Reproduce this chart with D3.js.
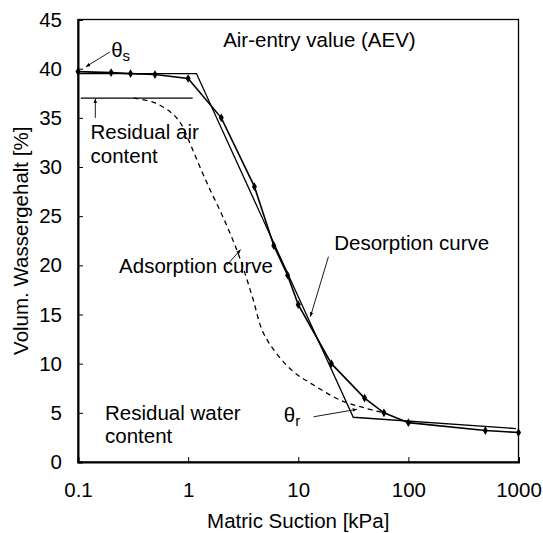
<!DOCTYPE html>
<meta charset="utf-8">
<script src="https://d3js.org/d3.v7.min.js"></script>
<style>
  body { margin: 0; background: #fff; }
  text { font-family: Arial, "Liberation Sans", sans-serif; fill: #000; }
</style>
<div id="my_dataviz"></div>
<script>

// measured desorption curve (with markers)
var desSuction = [0.1, 0.2, 0.3, 0.5, 1, 2, 4, 6, 8, 10, 20, 40, 60, 100, 500, 1000];
var desWater   = [39.7, 39.6, 39.5, 39.4, 39.0, 35, 28, 22, 19, 16, 10, 6.5, 5, 4, 3.2, 3.0];

// idealised desorption curve (straight segments)
var idealSuction = [0.1, 1.19, 31.6, 950];
var idealWater   = [39.5, 39.5, 4.55, 3.4];

// adsorption curve (dashed)
var adsSuction = [0.32, 0.48, 0.69, 0.85, 1.04, 1.28, 1.58, 2.0, 2.5, 3.0, 3.9, 4.7, 6, 9, 13, 24, 40, 60];
var adsWater   = [37, 36.6, 35.6, 34.5, 32.4, 30, 27.7, 25.3, 22.8, 20.5, 16.5, 13.4, 11.4, 9.2, 8, 6.3, 5.5, 5];

// residual air content line
var airSuction = [0.106, 1.1];
var airWater   = [37, 37];

var xTicks = [0.1, 1, 10, 100, 1000];
var yTicks = [0, 5, 10, 15, 20, 25, 30, 35, 40, 45];

var fs = "20.5px";

var margin = {top: 19.5, right: 24.5, bottom: 71, left: 78},
    width = 543 - margin.left - margin.right,
    height = 533 - margin.top - margin.bottom;

var svg = d3.select("#my_dataviz")
  .append("svg")
    .attr("width", 543)
    .attr("height", 533)
  .append("g")
    .attr("transform", "translate(" + margin.left + "," + margin.top + ")");

svg.append("defs").append("marker")
    .attr("id", "arrow")
    .attr("viewBox", "0 0 10 10")
    .attr("refX", 10).attr("refY", 5)
    .attr("markerWidth", 5).attr("markerHeight", 5)
    .attr("orient", "auto")
  .append("path")
    .attr("d", "M0,1 L10,5 L0,9 z")
    .attr("fill", "#000");

var x = d3.scaleLog().domain([0.1, 1000]).range([0, width]);
var y = d3.scaleLinear().domain([0, 45]).range([height, 0]);

// frame
svg.append("rect")
  .attr("width", width).attr("height", height)
  .attr("fill", "none").attr("stroke", "#000").attr("stroke-width", 1.3);

// axes (ticks pointing inward)
var xAxis = svg.append("g")
  .attr("transform", "translate(0," + height + ")")
  .call(d3.axisBottom(x).tickValues(xTicks).tickSize(-5).tickPadding(20)
        .tickFormat(function(d) { return d3.format("~g")(d); }));
var yAxis = svg.append("g")
  .call(d3.axisLeft(y).tickValues(yTicks).tickSize(-5).tickPadding(16));

[xAxis, yAxis].forEach(function(a) {
  a.select(".domain").attr("stroke-width", 2);
  a.selectAll(".tick line").attr("stroke-width", 1);
  a.selectAll("text").style("font-size", fs).attr("font-family", "Arial, 'Liberation Sans', sans-serif");
});

svg.append("text")
  .attr("x", width / 2).attr("y", height + 66)
  .attr("text-anchor", "middle")
  .style("font-size", fs)
  .text("Matric Suction [kPa]");

svg.append("text")
  .attr("transform", "rotate(-90)")
  .attr("x", -height / 2).attr("y", -50)
  .attr("text-anchor", "middle")
  .style("font-size", fs)
  .text("Volum. Wassergehalt [%]");

function pairs(xs, ys) { return xs.map(function(v, i) { return [v, ys[i]]; }); }

var line = d3.line()
  .x(function(d) { return x(d[0]); })
  .y(function(d) { return y(d[1]); });

svg.append("path")
  .datum(pairs(airSuction, airWater))
  .attr("d", line)
  .attr("fill", "none").attr("stroke", "#000").attr("stroke-width", 1.3);

svg.append("path")
  .datum(pairs(adsSuction, adsWater))
  .attr("d", line.curve(d3.curveCatmullRom))
  .attr("fill", "none").attr("stroke", "#000").attr("stroke-width", 1.3)
  .attr("stroke-dasharray", "5,4");
line.curve(d3.curveLinear);

svg.append("path")
  .datum(pairs(idealSuction, idealWater))
  .attr("d", line)
  .attr("fill", "none").attr("stroke", "#000").attr("stroke-width", 1.3);

svg.append("path")
  .datum(pairs(desSuction, desWater))
  .attr("d", line)
  .attr("fill", "none").attr("stroke", "#000").attr("stroke-width", 1.6);

svg.selectAll(".pt")
  .data(pairs(desSuction, desWater))
  .enter().append("path")
    .attr("class", "pt")
    .attr("transform", function(d) { return "translate(" + x(d[0]) + "," + y(d[1]) + ")"; })
    .attr("d", d3.symbol().type(d3.symbolDiamond).size(22))
    .attr("fill", "#000");

// annotations (in data coordinates)
var labels = [
  {t: "Air-entry value (AEV)", x: 2.08, y: 42.2},
  {t: "Residual air", x: 0.13, y: 32.85},
  {t: "content", x: 0.13, y: 30.4},
  {t: "Adsorption curve", x: 0.236, y: 19.2},
  {t: "Desorption curve", x: 21.2, y: 21.56},
  {t: "Residual water", x: 0.176, y: 4.27},
  {t: "content", x: 0.176, y: 1.93}
];
svg.selectAll(".lbl")
  .data(labels)
  .enter().append("text")
    .attr("class", "lbl")
    .attr("x", function(d) { return x(d.x); })
    .attr("y", function(d) { return y(d.y); })
    .style("font-size", fs)
    .text(function(d) { return d.t; });

var thetas = [
  {sub: "s", x: 0.2, y: 41.2},
  {sub: "r", x: 7.4, y: 4.1}
];
var th = svg.selectAll(".th")
  .data(thetas)
  .enter().append("text")
    .attr("class", "th")
    .attr("x", function(d) { return x(d.x); })
    .attr("y", function(d) { return y(d.y); })
    .style("font-size", fs)
    .attr("font-family", "'DejaVu Serif', 'Times New Roman', serif");
th.append("tspan").text("θ");
th.append("tspan").attr("dy", 4).style("font-size", "15px")
  .attr("font-family", "Arial, 'Liberation Sans', sans-serif")
  .text(function(d) { return d.sub; });

var arrows = [
  {x1: 0.195, y1: 41.7, x2: 0.118, y2: 40.2},
  {x1: 0.1436, y1: 35.0, x2: 0.1436, y2: 36.95},
  {x1: 2.25, y1: 20.03, x2: 3.0, y2: 21.6},
  {x1: 18.8, y1: 20.88, x2: 12.9, y2: 14.78},
  {x1: 13.8, y1: 4.6, x2: 34.2, y2: 5.36}
];
svg.selectAll(".arr")
  .data(arrows)
  .enter().append("line")
    .attr("class", "arr")
    .attr("x1", function(d) { return x(d.x1); })
    .attr("y1", function(d) { return y(d.y1); })
    .attr("x2", function(d) { return x(d.x2); })
    .attr("y2", function(d) { return y(d.y2); })
    .attr("stroke", "#000").attr("stroke-width", 0.9)
    .attr("marker-end", "url(#arrow)");

</script>
